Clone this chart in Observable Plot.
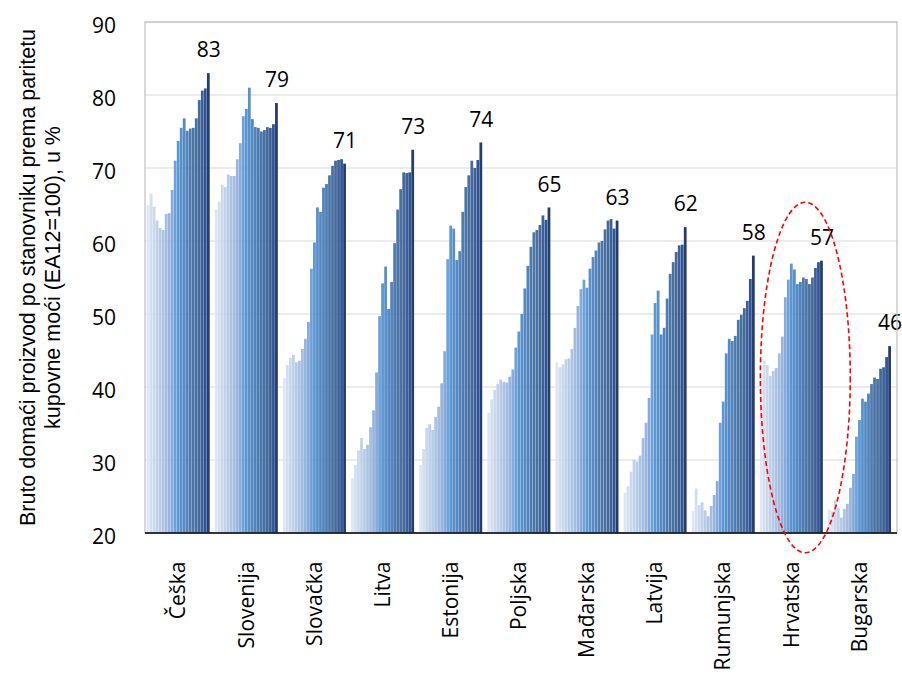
<!DOCTYPE html>
<html>
<head>
<meta charset="utf-8">
<script src="https://cdn.jsdelivr.net/npm/d3@7"></script>
<script src="https://cdn.jsdelivr.net/npm/@observablehq/plot@0.6"></script>
<style>
  html, body { margin: 0; padding: 0; background: #fff; }
  #chart svg { display: block; }
</style>
</head>
<body>
<div id="chart"></div>
<script>
// Categories
const countries = ["Češka", "Slovenija", "Slovačka", "Litva", "Estonija", "Poljska", "Mađarska", "Latvija", "Rumunjska", "Hrvatska", "Bugarska"];
const years = [1995, 1996, 1997, 1998, 1999, 2000, 2001, 2002, 2003, 2004, 2005, 2006, 2007, 2008, 2009, 2010, 2011, 2012, 2013, 2014, 2015];

// Series values (GDP per capita in PPS, EA12 = 100)
const ceska     = [64.9, 66.5, 64.7, 62.8, 61.8, 61.5, 63.7, 63.8, 67.0, 71.0, 73.7, 75.5, 76.8, 75.1, 75.4, 75.5, 76.8, 79.3, 80.6, 80.9, 83.0];
const slovenija = [64.3, 65.4, 67.7, 67.4, 69.1, 68.9, 68.9, 71.2, 73.4, 77.1, 78.1, 81.0, 76.7, 75.6, 75.5, 75.0, 75.2, 75.6, 75.5, 76.0, 78.9];
const slovacka  = [41.2, 43.0, 44.0, 44.4, 43.4, 43.6, 45.2, 46.6, 48.9, 56.2, 59.8, 64.6, 64.0, 67.3, 67.8, 69.0, 70.3, 71.0, 71.1, 71.2, 70.6];
const litva     = [27.5, 29.3, 31.3, 33.0, 31.5, 32.1, 34.5, 36.8, 42.0, 49.7, 54.2, 56.5, 50.7, 54.4, 59.7, 64.3, 67.1, 69.4, 69.3, 69.4, 72.5];
const estonija  = [29.3, 31.5, 34.4, 34.9, 34.1, 35.9, 37.3, 40.5, 44.9, 57.5, 62.1, 61.7, 57.4, 58.6, 64.0, 67.4, 69.0, 71.0, 70.0, 71.1, 73.5];
const poljska   = [36.5, 38.3, 39.6, 40.4, 41.0, 40.7, 40.6, 41.4, 42.4, 45.4, 47.6, 50.0, 53.5, 56.6, 59.2, 61.2, 61.5, 62.2, 63.5, 62.9, 64.6];
const madjarska = [43.4, 42.7, 43.1, 43.8, 43.9, 45.2, 48.1, 51.1, 53.4, 54.7, 53.6, 56.2, 57.8, 58.7, 59.8, 60.0, 61.6, 62.8, 63.0, 61.7, 62.8];
const latvija   = [25.5, 26.4, 28.4, 30.0, 29.8, 30.6, 33.0, 35.1, 38.5, 47.2, 51.5, 53.2, 47.2, 48.1, 52.1, 55.5, 57.1, 58.5, 59.4, 59.5, 61.9];
const rumunjska = [23.0, 26.1, 23.8, 24.2, 23.1, 22.3, 23.7, 25.2, 27.1, 35.1, 38.0, 44.6, 46.6, 46.3, 47.0, 49.2, 49.9, 50.8, 51.8, 54.8, 58.0];
const hrvatska  = [41.3, 43.6, 43.0, 41.5, 42.2, 42.6, 44.6, 46.9, 52.3, 54.7, 56.9, 56.1, 54.1, 54.4, 55.0, 54.8, 54.1, 55.0, 56.3, 57.1, 57.3];
const bugarska  = [23.2, 23.0, 24.5, 23.4, 22.1, 23.3, 24.0, 26.2, 28.1, 33.2, 35.5, 38.4, 38.0, 39.1, 40.4, 41.3, 41.1, 42.5, 42.7, 44.1, 45.6];

// Tick labels
const yTicks = [20, 30, 40, 50, 60, 70, 80, 90];
const yTitle = ["Bruto domaći proizvod po stanovniku prema paritetu", "kupovne moći (EA12=100), u %"];

// Year colours (light to dark blue)
const yearColors = ["#dce6f4", "#d3dff1", "#cad8ed", "#c0d1ea", "#b7cae6", "#adc3e3", "#a3bce0", "#97b4de", "#86aadb", "#6fa0d8", "#5b97d2",
                    "#5890cb", "#5589c2", "#5282b9", "#4f7cb0", "#4b76a8", "#4870a0", "#456a99", "#3d6096", "#305498", "#223d6e"];

const series = [ceska, slovenija, slovacka, litva, estonija, poljska, madjarska, latvija, rumunjska, hrvatska, bugarska];
const data = [];
countries.forEach((c, i) => years.forEach((y, j) => data.push({country: c, year: y, value: series[i][j]})));
const lastYear = years[years.length - 1];
const labels = data.filter(d => d.year === lastYear);

const W = 902, H = 674, ML = 145, MR = 5, MT = 22, MB = 141;

const chart = Plot.plot({
  width: W,
  height: H,
  marginLeft: ML,
  marginRight: MR,
  marginTop: MT,
  marginBottom: MB,
  style: {fontFamily: "'Open Sans', sans-serif", fontSize: "21px", color: "#000", background: "#fff"},
  fx: {domain: countries, paddingInner: 0.068, paddingOuter: 0.053, align: 0.2, round: false, label: null},
  x: {domain: years, padding: 0.08, round: false, axis: null},
  y: {domain: [20, 90], grid: false, label: null},
  color: {domain: years, range: yearColors},
  marks: [
    Plot.barY(data, {fx: "country", x: "year", y1: 20, y2: "value", fill: "year"}),
    Plot.text(labels, {fx: "country", x: "year", y: "value", text: d => String(Math.round(d.value)), dy: -23, fontSize: 21, fill: "#000", lineAnchor: "middle"}),
    Plot.axisY({ticks: yTicks, tickSize: 0, tickPadding: 31, dy: 4, fontSize: 21, label: null}),
    Plot.axisFx({anchor: "bottom", tickRotate: -90, tickSize: 0, tickPadding: 28, fontSize: 21, label: null})
  ]
});

document.getElementById("chart").appendChild(chart);

const svg = d3.select(chart);
const ys = chart.scale("y");

// Continuous gridlines + frame across all facets, placed behind the bars
const under = svg.insert("g", "g").attr("class", "underlay");
yTicks.forEach(t => {
  under.append("line")
    .attr("x1", ML).attr("x2", W - MR)
    .attr("y1", ys.apply(t)).attr("y2", ys.apply(t))
    .attr("stroke", "#d9d9d9").attr("stroke-width", 1);
});
const over = svg.append("g").attr("class", "overlay");
over.append("rect")
  .attr("x", ML).attr("y", ys.apply(90))
  .attr("width", W - MR - ML).attr("height", ys.apply(20) - ys.apply(90))
  .attr("fill", "none").attr("stroke", "#bfbfbf").attr("stroke-width", 1.2);
over.append("line")
  .attr("x1", ML).attr("x2", W - MR)
  .attr("y1", ys.apply(20)).attr("y2", ys.apply(20))
  .attr("stroke", "#000").attr("stroke-width", 1.5);

// Y axis title (two lines, rotated)
const midY = (ys.apply(20) + ys.apply(90)) / 2;
[[35, yTitle[0]], [60, yTitle[1]]].forEach(([bx, t]) => {
  svg.append("text")
    .attr("transform", `translate(${bx},${midY}) rotate(-90)`)
    .attr("text-anchor", "middle")
    .attr("font-family", "'Liberation Sans', Arial, sans-serif")
    .attr("font-size", 21.5)
    .attr("fill", "#000")
    .text(t);
});

// Red dashed ellipse highlighting Hrvatska
const fxs = chart.scale("fx");
const hx = fxs.apply("Hrvatska") + fxs.bandwidth * 0.72;
const hy = ys.apply(41.3);
svg.append("ellipse")
  .attr("cx", hx)
  .attr("cy", hy)
  .attr("rx", fxs.step * 0.66)
  .attr("ry", ys.apply(41.3) - ys.apply(65.3))
  .attr("fill", "none")
  .attr("stroke", "#ff0000")
  .attr("stroke-width", 1.6)
  .attr("stroke-dasharray", "5,3");
</script>
</body>
</html>
